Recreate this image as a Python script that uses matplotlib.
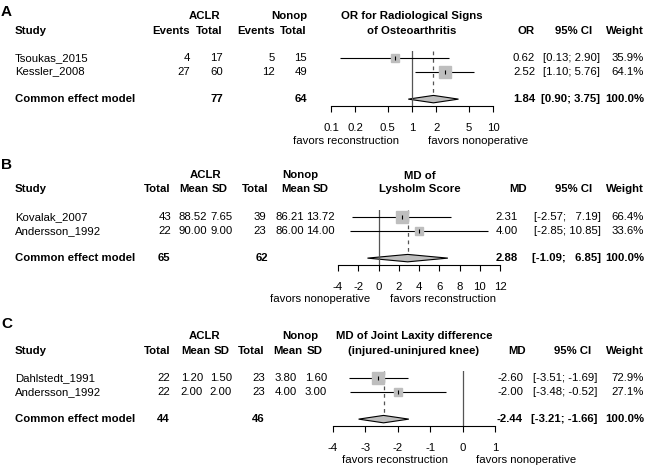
import matplotlib.pyplot as plt
from matplotlib.patches import Polygon

W, H = 648, 469
FS = 8.2
plt.rcParams['font.family'] = ['Liberation Sans', 'DejaVu Sans']

# panel A: OR for radiological signs of osteoarthritis
a_studies = ['Tsoukas_2015', 'Kessler_2008']
a_ev_aclr = [4, 27]
a_n_aclr = [17, 60]
a_ev_nonop = [5, 12]
a_n_nonop = [15, 49]
a_est = [0.62, 2.52]
a_lo = [0.13, 1.10]
a_hi = [2.90, 5.76]
a_w = [35.9, 64.1]
a_pooled = [1.84, 0.90, 3.75]
a_ticks = [0.1, 0.2, 0.5, 1, 2, 5, 10]
a_ticklabels = ['0.1', '0.2', '0.5', '1', '2', '5', '10']

# panel B: MD of Lysholm score
b_studies = ['Kovalak_2007', 'Andersson_1992']
b_n_aclr = [43, 22]
b_mean_aclr = [88.52, 90.00]
b_sd_aclr = [7.65, 9.00]
b_n_nonop = [39, 23]
b_mean_nonop = [86.21, 86.00]
b_sd_nonop = [13.72, 14.00]
b_est = [2.31, 4.00]
b_lo = [-2.57, -2.85]
b_hi = [7.19, 10.85]
b_w = [66.4, 33.6]
b_pooled = [2.88, -1.09, 6.85]
b_ticks = [-4, -2, 0, 2, 4, 6, 8, 10, 12]

# panel C: MD of joint laxity difference
c_studies = ['Dahlstedt_1991', 'Andersson_1992']
c_n_aclr = [22, 22]
c_mean_aclr = [1.20, 2.00]
c_sd_aclr = [1.50, 2.00]
c_n_nonop = [23, 23]
c_mean_nonop = [3.80, 4.00]
c_sd_nonop = [1.60, 3.00]
c_est = [-2.60, -2.00]
c_lo = [-3.51, -3.48]
c_hi = [-1.69, -0.52]
c_w = [72.9, 27.1]
c_pooled = [-2.44, -3.21, -1.66]
c_ticks = [-4, -3, -2, -1, 0, 1]

fig = plt.figure(figsize=(W / 100, H / 100), dpi=100)


def txt(x, y, s, ha='right', bold=False, size=FS):
    fig.text(x / W, 1 - y / H, s, ha=ha, va='center', fontsize=size,
             fontweight='bold' if bold else 'normal')


def ci_strings(lo, hi):
    los = ['%.2f' % v for v in lo]
    his = ['%.2f' % v for v in hi]
    wl = max(len(s) for s in los)
    wh = max(len(s) for s in his)
    # two spaces ~ one digit in Arial-like fonts
    return ['[' + '  ' * (wl - len(l)) + l + '; ' + '  ' * (wh - len(h)) + h + ']'
            for l, h in zip(los, his)]


def forest(x0, x1, y_top, y_axis, est, lo, hi, w, pooled, null, ticks, labels, log=False):
    ax = fig.add_axes([x0 / W, 1 - y_axis / H, (x1 - x0) / W, (y_axis - y_top) / H])
    n = len(est)
    prow = n + 1
    if log:
        ax.set_xscale('log')
    ax.set_xlim(ticks[0], ticks[-1])
    ax.set_ylim(prow + 0.5, -0.5)
    ax.axvline(null, color='#555555', lw=0.9)
    h = 0.27
    ax.vlines(pooled[0], -0.5, prow - h, colors='#555555', linestyles=(0, (3, 3)), lw=0.9)
    for i in range(n):
        ax.hlines(i, lo[i], hi[i], colors='black', lw=0.8)
        ax.plot(est[i], i, 's', ms=14.5 * (w[i] / 100) ** 0.5 * 0.72,
                mfc='#bebebe', mec='#bebebe')
        ax.plot(est[i], i, '|', ms=3, color='black', mew=0.8)
    ax.add_patch(Polygon([(pooled[1], prow), (pooled[0], prow - h),
                          (pooled[2], prow), (pooled[0], prow + h)],
                         closed=True, fc='#bebebe', ec='black', lw=0.8))
    for s in ['top', 'left', 'right']:
        ax.spines[s].set_visible(False)
    ax.spines['bottom'].set_linewidth(0.8)
    ax.patch.set_visible(False)
    ax.set_yticks([])
    ax.set_xticks(ticks)
    ax.set_xticklabels(labels)
    ax.minorticks_off()
    ax.tick_params(axis='x', direction='out', length=4.3, width=0.8, pad=8.2, labelsize=FS)
    step = (y_axis - y_top) / (n + 2)
    return [y_top + (i + 0.5) * step for i in range(n + 2)]


# ---- A ----
ry = forest(331, 493, 51, 106, a_est, a_lo, a_hi, a_w, a_pooled, 1,
            a_ticks, a_ticklabels, log=True)
txt(1, 12, 'A', ha='left', bold=True, size=11)
txt(205, 16, 'ACLR', ha='center', bold=True)
txt(289, 16, 'Nonop', ha='center', bold=True)
txt(412, 16, 'OR for Radiological Signs', ha='center', bold=True)
txt(15, 31, 'Study', ha='left', bold=True)
for x, s in [(190, 'Events'), (223, 'Total'), (275, 'Events'), (307, 'Total'),
             (535, 'OR'), (592, '95% CI'), (644, 'Weight')]:
    txt(x, 31, s, bold=True)
txt(412, 31, 'of Osteoarthritis', ha='center', bold=True)
cis = ci_strings(a_lo + [a_pooled[1]], a_hi + [a_pooled[2]])
for i in range(len(a_studies)):
    y = ry[i]
    txt(15, y, a_studies[i], ha='left')
    txt(190, y, str(a_ev_aclr[i]))
    txt(223, y, str(a_n_aclr[i]))
    txt(275, y, str(a_ev_nonop[i]))
    txt(307, y, str(a_n_nonop[i]))
    txt(535, y, '%.2f' % a_est[i])
    txt(600, y, cis[i])
    txt(644, y, '%.1f%%' % a_w[i])
y = ry[-1]
txt(15, y, 'Common effect model', ha='left', bold=True)
txt(223, y, str(sum(a_n_aclr)), bold=True)
txt(307, y, str(sum(a_n_nonop)), bold=True)
txt(535, y, '%.2f' % a_pooled[0], bold=True)
txt(600, y, cis[-1], bold=True)
txt(644, y, '100.0%', bold=True)
txt(399, 141, 'favors reconstruction')
txt(428, 141, 'favors nonoperative', ha='left')

# ---- B ----
ry = forest(338, 500, 210, 265, b_est, b_lo, b_hi, b_w, b_pooled, 0,
            b_ticks, [str(t) for t in b_ticks])
txt(1, 165, 'B', ha='left', bold=True, size=11)
txt(206, 175, 'ACLR', ha='center', bold=True)
txt(300, 175, 'Nonop', ha='center', bold=True)
txt(420, 176, 'MD of', ha='center', bold=True)
txt(15, 189, 'Study', ha='left', bold=True)
for x, s in [(170, 'Total'), (208, 'Mean'), (228, 'SD'), (269, 'Total'), (310, 'Mean'),
             (329, 'SD'), (527, 'MD'), (592, '95% CI'), (644, 'Weight')]:
    txt(x, 189, s, bold=True)
txt(420, 189, 'Lysholm Score', ha='center', bold=True)
cis = ci_strings(b_lo + [b_pooled[1]], b_hi + [b_pooled[2]])
for i in range(len(b_studies)):
    y = ry[i]
    txt(15, y, b_studies[i], ha='left')
    txt(171, y, str(b_n_aclr[i]))
    txt(207, y, '%.2f' % b_mean_aclr[i])
    txt(233, y, '%.2f' % b_sd_aclr[i])
    txt(266, y, str(b_n_nonop[i]))
    txt(304, y, '%.2f' % b_mean_nonop[i])
    txt(335, y, '%.2f' % b_sd_nonop[i])
    txt(518, y, '%.2f' % b_est[i])
    txt(601, y, cis[i])
    txt(644, y, '%.1f%%' % b_w[i])
y = ry[-1]
txt(15, y, 'Common effect model', ha='left', bold=True)
txt(170, y, str(sum(b_n_aclr)), bold=True)
txt(268, y, str(sum(b_n_nonop)), bold=True)
txt(518, y, '%.2f' % b_pooled[0], bold=True)
txt(601, y, cis[-1], bold=True)
txt(644, y, '100.0%', bold=True)
txt(370, 299, 'favors nonoperative')
txt(390, 299, 'favors reconstruction', ha='left')

# ---- C ----
ry = forest(333, 495, 371, 426, c_est, c_lo, c_hi, c_w, c_pooled, 0,
            c_ticks, [str(t) for t in c_ticks])
txt(1, 324, 'C', ha='left', bold=True, size=11)
txt(205, 336, 'ACLR', ha='center', bold=True)
txt(300, 336, 'Nonop', ha='center', bold=True)
txt(414, 336, 'MD of Joint Laxity difference', ha='center', bold=True)
txt(15, 351, 'Study', ha='left', bold=True)
for x, s in [(170, 'Total'), (210, 'Mean'), (230, 'SD'), (265, 'Total'), (302, 'Mean'),
             (323, 'SD'), (526, 'MD'), (591, '95% CI'), (644, 'Weight')]:
    txt(x, 351, s, bold=True)
txt(414, 351, '(injured-uninjured knee)', ha='center', bold=True)
cis = ci_strings(c_lo + [c_pooled[1]], c_hi + [c_pooled[2]])
for i in range(len(c_studies)):
    y = ry[i]
    txt(15, y, c_studies[i], ha='left')
    txt(170, y, str(c_n_aclr[i]))
    txt(203, y, '%.2f' % c_mean_aclr[i])
    txt(232, y, '%.2f' % c_sd_aclr[i])
    txt(265, y, str(c_n_nonop[i]))
    txt(297, y, '%.2f' % c_mean_nonop[i])
    txt(327, y, '%.2f' % c_sd_nonop[i])
    txt(523, y, '%.2f' % c_est[i])
    txt(597, y, cis[i])
    txt(644, y, '%.1f%%' % c_w[i])
y = ry[-1]
txt(15, y, 'Common effect model', ha='left', bold=True)
txt(170, y, str(sum(c_n_aclr)), bold=True)
txt(265, y, str(sum(c_n_nonop)), bold=True)
txt(523, y, '%.2f' % c_pooled[0], bold=True)
txt(597, y, cis[-1], bold=True)
txt(644, y, '100.0%', bold=True)
txt(448, 460, 'favors reconstruction')
txt(476, 460, 'favors nonoperative', ha='left')

fig.savefig('out.png', dpi=100)
